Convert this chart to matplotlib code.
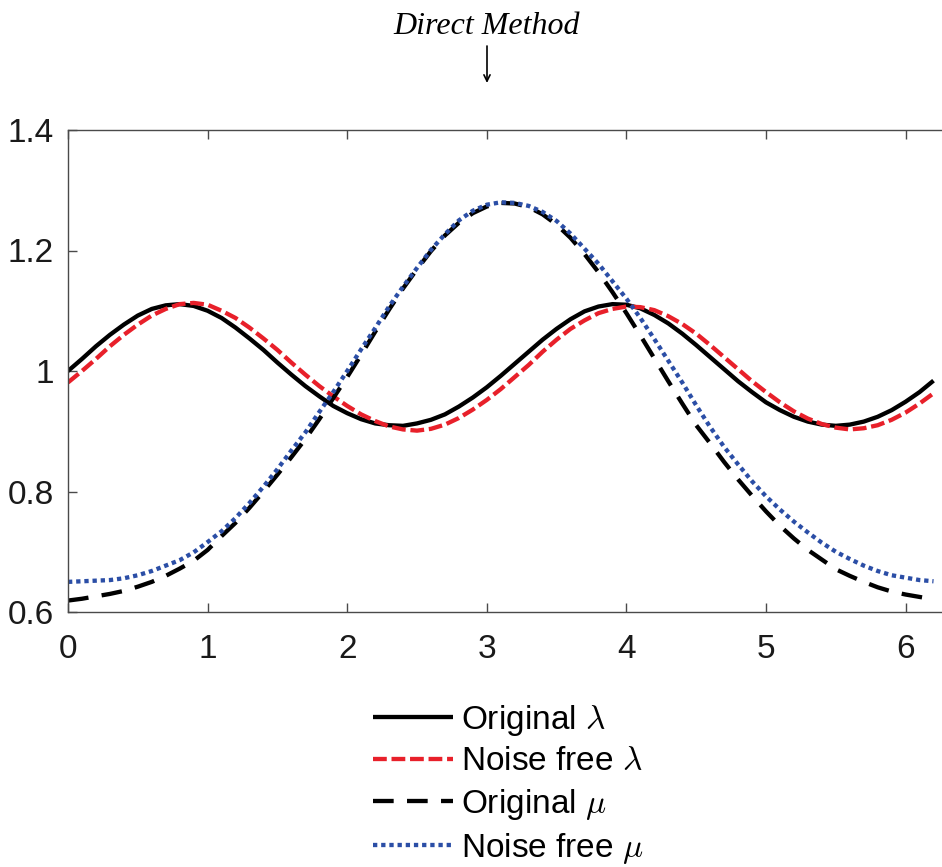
import numpy as np
import matplotlib
matplotlib.use("Agg")
import matplotlib.pyplot as plt

# ---------------- data ----------------
x = [round(0.1 * i, 1) for i in range(63)]  # 0.0 ... 6.2

original_lambda = [
    1.000, 1.020, 1.041, 1.060, 1.077, 1.092, 1.103, 1.109, 1.111, 1.108,
    1.100, 1.088, 1.072, 1.054, 1.035, 1.014, 0.994, 0.975, 0.958, 0.942,
    0.930, 0.920, 0.913, 0.910, 0.909, 0.913, 0.919, 0.928, 0.941, 0.956,
    0.973, 0.992, 1.012, 1.032, 1.052, 1.070, 1.086, 1.099, 1.107, 1.111,
    1.110, 1.104, 1.093, 1.079, 1.062, 1.043, 1.023, 1.003, 0.983, 0.965,
    0.948, 0.935, 0.924, 0.916, 0.911, 0.909, 0.911, 0.916, 0.924, 0.935,
    0.949, 0.965, 0.984,
]

noise_free_lambda = [
    0.981, 1.000, 1.020, 1.041, 1.060, 1.077, 1.092, 1.103, 1.111, 1.113,
    1.110, 1.100, 1.088, 1.072, 1.054, 1.035, 1.014, 0.994, 0.975, 0.958,
    0.942, 0.928, 0.917, 0.908, 0.903, 0.901, 0.904, 0.911, 0.922, 0.936,
    0.952, 0.970, 0.990, 1.010, 1.032, 1.052, 1.070, 1.084, 1.096, 1.103,
    1.107, 1.106, 1.101, 1.091, 1.078, 1.062, 1.043, 1.023, 1.003, 0.983,
    0.965, 0.948, 0.933, 0.921, 0.912, 0.906, 0.903, 0.905, 0.910, 0.919,
    0.931, 0.946, 0.963,
]

original_mu = [
    0.619, 0.622, 0.626, 0.630, 0.635, 0.642, 0.650, 0.660, 0.672, 0.685,
    0.703, 0.726, 0.748, 0.773, 0.800, 0.828, 0.857, 0.887, 0.920, 0.955,
    0.990, 1.027, 1.065, 1.102, 1.137, 1.169, 1.199, 1.225, 1.246, 1.262,
    1.273, 1.279, 1.278, 1.272, 1.260, 1.243, 1.221, 1.194, 1.164, 1.131,
    1.096, 1.059, 1.021, 0.983, 0.946, 0.910, 0.880, 0.849, 0.820, 0.793,
    0.767, 0.743, 0.722, 0.703, 0.687, 0.671, 0.660, 0.650, 0.641, 0.634,
    0.629, 0.625, 0.621,
]

noise_free_mu = [
    0.650, 0.651, 0.652, 0.653, 0.656, 0.661, 0.668, 0.677, 0.686, 0.699,
    0.716, 0.734, 0.756, 0.781, 0.808, 0.837, 0.868, 0.898, 0.932, 0.965,
    1.000, 1.036, 1.071, 1.107, 1.140, 1.171, 1.201, 1.227, 1.250, 1.266,
    1.276, 1.280, 1.279, 1.274, 1.264, 1.249, 1.228, 1.203, 1.178, 1.149,
    1.120, 1.088, 1.053, 1.017, 0.981, 0.943, 0.907, 0.874, 0.845, 0.817,
    0.792, 0.770, 0.750, 0.732, 0.715, 0.700, 0.688, 0.677, 0.668, 0.661,
    0.657, 0.653, 0.651,
]

labels = ["Original $\\lambda$", "Noise free $\\lambda$",
          "Original $\\mu$", "Noise free $\\mu$"]
xticks = [0, 1, 2, 3, 4, 5, 6]
yticks = [0.6, 0.8, 1.0, 1.2, 1.4]
ytick_labels = ["0.6", "0.8", "1", "1.2", "1.4"]
title_text = "Direct Method"

# ---------------- figure ----------------
plt.rcParams["font.family"] = ["Liberation Sans", "DejaVu Sans"]
plt.rcParams["mathtext.fontset"] = "cm"

W, H = 942, 867
fig = plt.figure(figsize=(W / 100, H / 100), dpi=100)
left_px, right_px, top_px, bottom_px = 68, 940.5, 130, 612
ax = fig.add_axes([left_px / W, 1 - bottom_px / H,
                   (right_px - left_px) / W, (bottom_px - top_px) / H])

lw = 3.1
ax.plot(x, original_lambda, color="black", lw=lw, solid_capstyle="butt",
        label=labels[0])
l2, = ax.plot(x, noise_free_lambda, color="#e8202a", lw=lw, label=labels[1])
l2.set_dashes((3.2, 1.1))
l2.set_dash_capstyle("butt")
l3, = ax.plot(x, original_mu, color="black", lw=lw, label=labels[2])
l3.set_dashes((4.8, 3.1))
l3.set_dash_capstyle("butt")
l4, = ax.plot(x, noise_free_mu, color="#2b4ea6", lw=lw, label=labels[3])
l4.set_dashes((1.0, 0.9))
l4.set_dash_capstyle("butt")

ax.set_xlim(0, 6.25)
ax.set_ylim(0.6, 1.4)
ax.set_xticks(xticks)
ax.set_xticklabels([str(t) for t in xticks])
ax.set_yticks(yticks)
ax.set_yticklabels(ytick_labels)

for side in ["left", "bottom", "top"]:
    ax.spines[side].set_color("#4a4a4a")
    ax.spines[side].set_linewidth(1.0)
ax.spines["right"].set_visible(False)

ax.tick_params(axis="both", direction="in", length=6.5, width=1.0,
               color="#4a4a4a", labelsize=24, labelcolor="#1a1a1a")
ax.tick_params(axis="x", top=True, pad=16)
ax.tick_params(axis="y", pad=10)

# legend below axes
leg = fig.legend(loc="center", bbox_to_anchor=(508 / W, 1 - 784 / H),
                 frameon=False, fontsize=24, handlelength=2.4,
                 handletextpad=0.25, labelspacing=0.27, borderpad=0,
                 borderaxespad=0)

# title with arrow
fig.text(487 / W, 1 - 26 / H, title_text, ha="center", va="center",
         fontsize=23, family=["Liberation Serif"], style="italic")
ax.annotate("", xy=(487, H - 83), xytext=(487, H - 46),
            xycoords="figure pixels", textcoords="figure pixels",
            arrowprops=dict(arrowstyle="->,head_length=0.45,head_width=0.22",
                            lw=1.2, color="black", shrinkA=0, shrinkB=0))

fig.savefig("out.png", dpi=100)
